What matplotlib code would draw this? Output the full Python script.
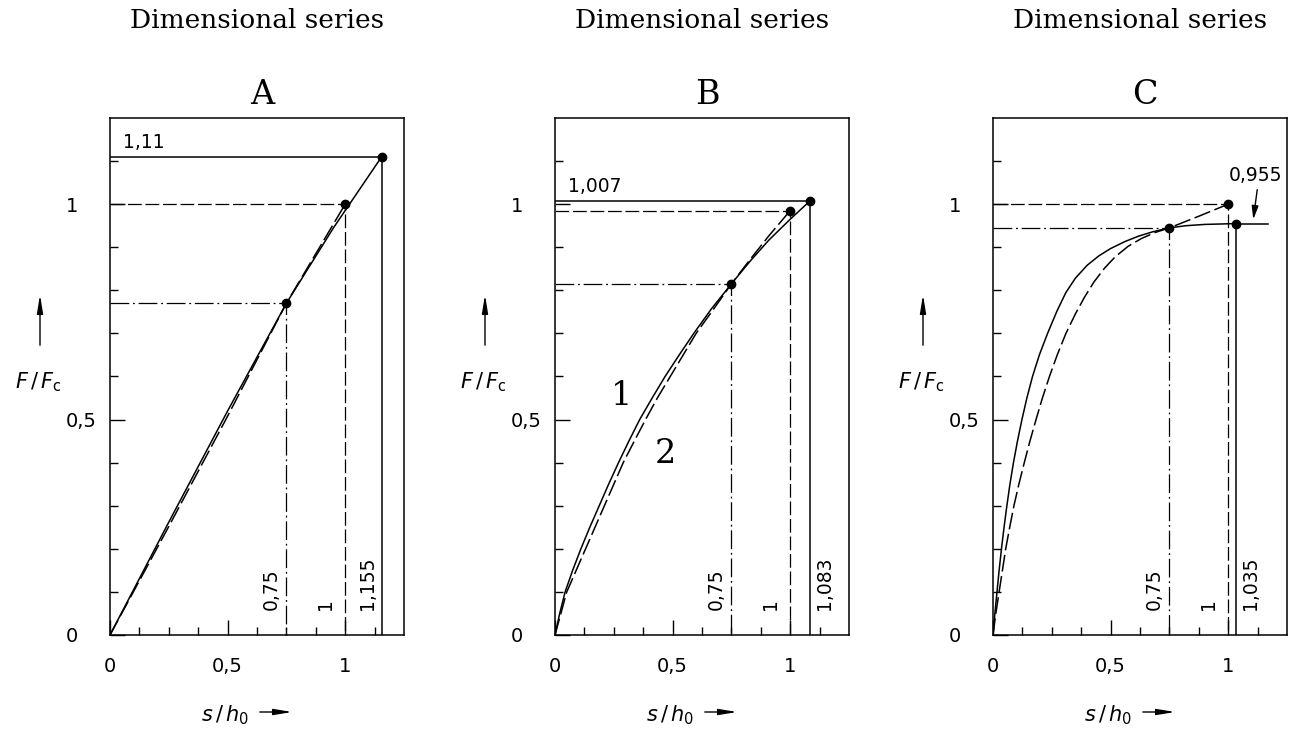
import matplotlib.pyplot as plt

# Kennlinien der Tellerfedern, Reihen A, B, C (s/h0 -> F/Fc)
# Kurve 1 (durchgezogen) und Kurve 2 (gestrichelt)
a_x1 = [0, 0.25, 0.5, 0.75, 0.95, 1.155]
a_y1 = [0, 0.262, 0.52, 0.77, 0.945, 1.11]
a_x2 = [0, 0.25, 0.5, 0.75, 1.0]
a_y2 = [0, 0.252, 0.508, 0.77, 1.0]

b_x1 = [0, 0.02, 0.043, 0.075, 0.11, 0.148, 0.188, 0.228, 0.27, 0.314, 0.36, 0.413,
        0.468, 0.528, 0.59, 0.665, 0.75, 0.83, 0.91, 1.0, 1.083]
b_y1 = [0, 0.05, 0.1, 0.15, 0.2, 0.25, 0.3, 0.35, 0.4, 0.45, 0.5, 0.55,
        0.6, 0.65, 0.7, 0.757, 0.815, 0.868, 0.917, 0.965, 1.007]
b_x2 = [0, 0.025, 0.05, 0.09, 0.13, 0.17, 0.21, 0.25, 0.29, 0.337, 0.385, 0.435,
        0.49, 0.545, 0.6, 0.675, 0.75, 0.83, 0.91, 1.0]
b_y2 = [0, 0.05, 0.1, 0.15, 0.2, 0.25, 0.3, 0.35, 0.4, 0.45, 0.5, 0.55,
        0.6, 0.65, 0.7, 0.757, 0.815, 0.872, 0.927, 0.985]

c_x1 = [0, 0.008, 0.017, 0.026, 0.036, 0.047, 0.059, 0.072, 0.087, 0.104, 0.123, 0.144,
        0.168, 0.197, 0.232, 0.272, 0.31, 0.35, 0.40, 0.45, 0.5, 0.56, 0.62, 0.68,
        0.75, 0.82, 0.9, 0.97, 1.035]
c_y1 = [0, 0.05, 0.1, 0.15, 0.2, 0.25, 0.3, 0.35, 0.4, 0.45, 0.5, 0.55,
        0.6, 0.65, 0.7, 0.752, 0.795, 0.828, 0.858, 0.88, 0.897, 0.913, 0.926, 0.936,
        0.945, 0.95, 0.953, 0.954, 0.955]
c_x2 = [0, 0.012, 0.026, 0.04, 0.054, 0.071, 0.089, 0.11, 0.133, 0.157, 0.183, 0.21,
        0.24, 0.273, 0.31, 0.35, 0.39, 0.43, 0.475, 0.52, 0.574, 0.63, 0.688, 0.75,
        0.875, 1.0]
c_y2 = [0, 0.05, 0.1, 0.15, 0.2, 0.25, 0.3, 0.35, 0.4, 0.45, 0.5, 0.55,
        0.6, 0.65, 0.7, 0.745, 0.785, 0.82, 0.852, 0.878, 0.902, 0.92, 0.934, 0.945,
        0.972, 1.0]

# Punkte: (s bei 0,75), (s bei 1), (Endpunkt Kurve 1)
reihen = ['A', 'B', 'C']
p075 = [0.77, 0.815, 0.945]
p1 = [1.0, 0.985, 1.0]
end_x = [1.155, 1.083, 1.035]
end_y = [1.11, 1.007, 0.955]
end_txt = ['1,155', '1,083', '1,035']
kurven = [(a_x1, a_y1, a_x2, a_y2), (b_x1, b_y1, b_x2, b_y2), (c_x1, c_y1, c_x2, c_y2)]

W, H = 1298, 731
fig = plt.figure(figsize=(W / 100, H / 100), dpi=100)
links = [110, 555, 993]
unten, breite, hoehe = 96, 294, 517
px = 1.25 / breite  # Datenbreite eines Pixels

gestr = (0, (11, 3))
strpkt = (0, (15, 3, 1.5, 3))
lw = 1.1
tfont = dict(family='DejaVu Sans', fontsize=14)
vfont = dict(family='DejaVu Sans', fontsize=13.5, rotation=90, va='bottom')

for i, r in enumerate(reihen):
    ax = fig.add_axes([links[i] / W, unten / H, breite / W, hoehe / H])
    ax.set_xlim(0, 1.25)
    ax.set_ylim(0, 1.2)
    x1, y1, x2, y2 = kurven[i]
    ax.plot(x1, y1, color='black', lw=lw)
    ax.plot(x2, y2, color='black', lw=lw, linestyle=gestr)

    # Hilfslinien
    ax.plot([0, 0.75, 0.75], [p075[i], p075[i], 0], color='black', lw=0.9, linestyle=strpkt)
    ax.plot([0, 1, 1], [p1[i], p1[i], 0], color='black', lw=0.9, linestyle=gestr)
    if r == 'C':
        ax.plot([end_x[i], end_x[i]], [end_y[i], 0], color='black', lw=lw)
        ax.plot([end_x[i], 1.17], [end_y[i], end_y[i]], color='black', lw=lw)
    else:
        ax.plot([0, end_x[i], end_x[i]], [end_y[i], end_y[i], 0], color='black', lw=lw)
    ax.plot([0.75, 1, end_x[i]], [p075[i], p1[i], end_y[i]], 'o', color='black', ms=6)

    # senkrechte Beschriftungen
    ax.text(0.75 - 6 * px, 0.058, '0,75', ha='right', **vfont)
    ax.text(1 - 10 * px, 0.058, '1', ha='right', **vfont)
    if r == 'A':
        ax.text(end_x[i] - 5 * px, 0.058, end_txt[i], ha='right', **vfont)
    else:
        ax.text(end_x[i] + 5 * px, 0.058, end_txt[i], ha='left', **vfont)

    ax.set_xticks([0, 0.5, 1])
    ax.set_xticklabels(['0', '0,5', '1'], **tfont)
    ax.set_yticks([0, 0.5, 1])
    ax.set_yticklabels(['0', '0,5', '1'], **tfont)
    for lbl in ax.get_yticklabels():
        lbl.set_horizontalalignment('left')
    ax.set_xticks([k * 0.125 for k in range(10)], minor=True)
    ax.set_yticks([k * 0.1 for k in range(12)], minor=True)
    ax.tick_params(which='major', direction='in', length=11, width=1)
    ax.tick_params(axis='x', which='major', pad=16)
    ax.tick_params(axis='y', which='major', pad=32)
    ax.tick_params(which='minor', direction='in', length=6, width=1)
    for sp in ax.spines.values():
        sp.set_linewidth(1.1)

    cx = (links[i] + breite / 2) / W
    fig.text(cx, 1 - 20 / H, 'Dimensional series', ha='center', va='center',
             family='DejaVu Serif', fontsize=19)
    fig.text(cx + 5 / W, 1 - 95 / H, r, ha='center', va='center',
             family='DejaVu Serif', fontsize=24)

    # Achsenbeschriftungen mit Pfeilen
    xl = (links[i] + 115) / W
    fig.text(xl, 1 - 715 / H, r'$s\,/\,h_0$', ha='center', va='center', fontsize=15,
             family='DejaVu Sans', math_fontfamily='dejavusans')
    ax.annotate('', xy=((links[i] + 185) / W, 1 - 712 / H), xytext=((links[i] + 147) / W, 1 - 712 / H),
                xycoords='figure fraction', textcoords='figure fraction',
                arrowprops=dict(arrowstyle='-|>,head_length=1.1,head_width=0.18', color='black', lw=1))
    fig.text((links[i] - 72) / W, 1 - 382 / H, r'$F\,/\,F_{\rm c}$', ha='center', va='center',
             fontsize=15, math_fontfamily='dejavusans')
    ax.annotate('', xy=((links[i] - 70) / W, 1 - 292 / H), xytext=((links[i] - 70) / W, 1 - 348 / H),
                xycoords='figure fraction', textcoords='figure fraction',
                arrowprops=dict(arrowstyle='-|>,head_length=1.1,head_width=0.18', color='black', lw=1))

    if r == 'A':
        ax.text(0.055, 1.122, '1,11', family='DejaVu Sans', fontsize=13.5, va='bottom')
    if r == 'B':
        ax.text(0.055, 1.02, '1,007', family='DejaVu Sans', fontsize=13.5, va='bottom')
        ax.text(0.285, 0.555, '1', family='DejaVu Serif', fontsize=24, ha='center', va='center')
        ax.text(0.47, 0.42, '2', family='DejaVu Serif', fontsize=24, ha='center', va='center')
    if r == 'C':
        ax.text(1.115, 1.066, '0,955', family='DejaVu Sans', fontsize=13.5, ha='center', va='center')
        ax.annotate('', xy=(1.105, 0.958), xytext=(1.125, 1.04),
                    arrowprops=dict(arrowstyle='-|>,head_length=0.8,head_width=0.2', color='black', lw=1))

fig.savefig('out.png', dpi=100)
